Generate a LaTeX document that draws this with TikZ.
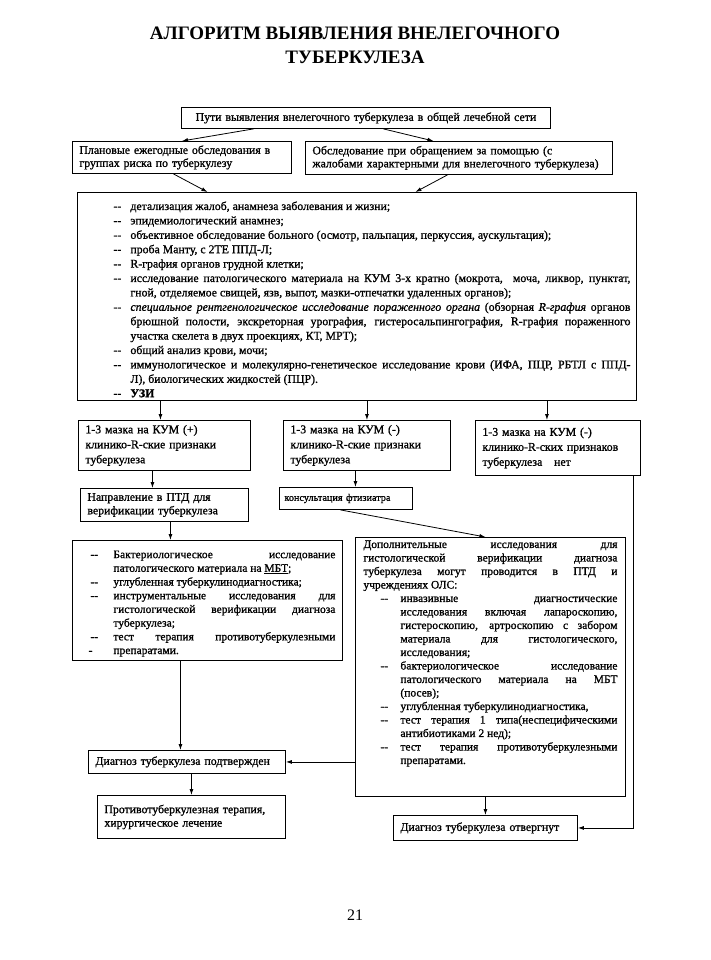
\documentclass[tikz,border=0pt]{standalone}
\usepackage{fontspec}
\setmainfont{Liberation Serif}
\newfontfamily\dk[FakeBold=1]{Liberation Serif}
\usetikzlibrary{arrows.meta}
\newcommand\myitem[3]{\par\noindent\hangindent=#1\hangafter=1\makebox[#1][l]{\hspace{#2}--}\ignorespaces#3\par}
\begin{document}
\begin{tikzpicture}[x=1pt,y=-1pt,
  bx/.style={draw, line width=0.9pt, inner xsep=7pt, inner ysep=3pt, anchor=north west, align=left, font=\dk\fontsize{11.8}{13.5}\selectfont},
  lst/.style={bx, align=justify},
  arr/.style={line width=0.8pt, -{Latex[length=6pt,width=4pt]}},
  ln/.style={line width=0.8pt}]
\useasboundingbox (0,0) rectangle (710,960);
\fill[white] (0,0) rectangle (710,960);
\hyphenpenalty=10000
\exhyphenpenalty=10000

\node[font=\bfseries\fontsize{19}{24}\selectfont, align=center] (title) at (355,45)
  {АЛГОРИТМ ВЫЯВЛЕНИЯ ВНЕЛЕГОЧНОГО\\ТУБЕРКУЛЕЗА};

\node[bx, align=center, text width=355pt, minimum height=21pt] (T) at (181,107)
  {Пути выявления внелегочного туберкулеза в общей лечебной сети};
\node[bx, text width=205pt, minimum height=32pt, font=\dk\fontsize{11.8}{13}\selectfont] (L1) at (72,141)
  {Плановые ежегодные обследования в\\группах риска по туберкулезу};
\node[bx, text width=293pt, minimum height=33pt, font=\dk\fontsize{11.8}{13}\selectfont] (R1) at (305,141)
  {Обследование при обращением за помощью (с\\жалобами характерными для внелегочного туберкулеза)};

\node[lst, inner xsep=6pt, text width=547pt, minimum height=208pt, font=\dk\fontsize{11.8}{14.4}\selectfont] (Big) at (77,192) {%
\myitem{47pt}{30pt}{детализация жалоб, анамнеза заболевания и жизни;}
\myitem{47pt}{30pt}{эпидемиологический анамнез;}
\myitem{47pt}{30pt}{объективное обследование больного (осмотр, пальпация, перкуссия, аускультация);}
\myitem{47pt}{30pt}{проба Манту, с 2ТЕ ППД-Л;}
\myitem{47pt}{30pt}{R-графия органов грудной клетки;}
\myitem{47pt}{30pt}{исследование патологического материала на КУМ 3-х кратно (мокрота, \ моча, ликвор, пунктат,\linebreak гной, отделяемое свищей, язв, выпот, мазки-отпечатки удаленных органов);}
\myitem{47pt}{30pt}{\textit{специальное рентгенологическое исследование пораженного органа} (обзорная \textit{R-графия} органов\linebreak брюшной полости, экскреторная урография, гистеросальпингография, R-графия пораженного\linebreak участка скелета в двух проекциях, КТ, МРТ);}
\myitem{47pt}{30pt}{общий анализ крови, мочи;}
\myitem{47pt}{30pt}{иммунологическое и молекулярно-генетическое исследование крови (ИФА, ПЦР, РБТЛ с ППД-\linebreak Л), биологических жидкостей (ПЦР).}
\myitem{47pt}{30pt}{\textbf{УЗИ}}};

\node[bx, text width=158pt, minimum height=50pt, font=\dk\fontsize{11.8}{15}\selectfont] (A) at (78,420)
  {1-3 мазка на КУМ (+)\\клинико-R-ские признаки\\туберкулеза};
\node[bx, text width=153pt, minimum height=50pt, font=\dk\fontsize{11.8}{15}\selectfont] (B) at (283,420)
  {1-3 мазка на КУМ (-)\\клинико-R-ские признаки\\туберкулеза};
\node[bx, text width=151pt, minimum height=55pt, font=\dk\fontsize{11.8}{15}\selectfont] (C) at (475,420)
  {1-3 мазка на КУМ (-)\\клинико-R-ских признаков\\туберкулеза \ \ нет};

\node[bx, text width=154pt, minimum height=33pt] (Napr) at (80,488)
  {Направление в ПТД для\\верификации туберкулеза};
\node[bx, inner xsep=5pt, text width=123pt, minimum height=22pt, font=\dk\fontsize{10.2}{12}\selectfont] (Kons) at (279,487)
  {консультация фтизиатра};

\node[lst, text width=256pt, minimum height=120pt, font=\dk\fontsize{11.5}{13.7}\selectfont] (LL) at (72,540) {%
\myitem{34pt}{11pt}{Бактериологическое исследование\linebreak патологического материала на \underline{МБТ};}
\myitem{34pt}{11pt}{углубленная туберкулинодиагностика;}
\myitem{34pt}{11pt}{инструментальные исследования для\linebreak гистологической верификации диагноза\linebreak туберкулеза;}
\myitem{34pt}{11pt}{тест терапия противотуберкулезными\linebreak \llap{-\hspace{21pt}}препаратами.}};

\node[lst, inner xsep=8pt, text width=254pt, font=\dk\fontsize{11.5}{13.5}\selectfont] (RL) at (355,537) {%
Дополнительные исследования для\linebreak гистологической верификации диагноза\linebreak туберкулеза могут проводится в ПТД и\linebreak учреждениях ОЛС:
\myitem{37pt}{17pt}{инвазивные диагностические\linebreak исследования включая лапароскопию,\linebreak гистероскопию, артроскопию с забором\linebreak материала для гистологического,\linebreak исследования;}
\myitem{37pt}{17pt}{бактериологическое исследование\linebreak патологического материала на МБТ\linebreak (посев);}
\myitem{37pt}{17pt}{углубленная туберкулинодиагностика,}
\myitem{37pt}{17pt}{тест терапия 1 типа(неспецифическими\linebreak антибиотиками 2 нед);}
\myitem{37pt}{17pt}{тест терапия противотуберкулезными\linebreak препаратами.}
\noindent\rule{0pt}{26pt}};

\node[bx, text width=183pt, minimum height=23pt] (Podtv) at (88,750)
  {Диагноз туберкулеза подтвержден};
\node[bx, text width=174pt, minimum height=43pt] (Proti) at (97,795)
  {Противотуберкулезная терапия,\\хирургическое лечение};
\node[bx, text width=170pt, minimum height=25pt] (Otv) at (393,815)
  {Диагноз туберкулеза отвергнут};

\node[font=\fontsize{16}{18}\selectfont] (pnum) at (355,915) {21};

% connectors
\draw[arr] ([xshift=-112.5pt]T.south) -- (L1.north);
\draw[arr] ([xshift=17.5pt]T.south) -- ([xshift=-25.5pt]R1.north);
\draw[arr] ([xshift=-8.5pt]L1.south) -- ([xshift=-149.5pt]Big.north);
\draw[arr] ([xshift=-11.5pt]R1.south) -- ([xshift=58.5pt]Big.north);
\draw[arr] ([xshift=-4pt]A.north |- Big.south) -- ([xshift=-4pt]A.north);
\draw[arr] (B.north |- Big.south) -- (B.north);
\draw[arr] ([xshift=-11pt]C.north |- Big.south) -- ([xshift=-11pt]C.north);
\draw[arr] ([xshift=-12pt]A.south) -- ([xshift=-12pt]Napr.north);
\draw[arr] ([xshift=9.5pt]Kons.north |- B.south) -- ([xshift=9.5pt]Kons.north);
\draw[arr] ([xshift=-5.5pt]Kons.south) -- ([xshift=-5pt]RL.north);
\draw[arr] ([xshift=6pt]Napr.south) -- ([xshift=6pt]Napr.south |- LL.north);
\draw[arr] ([xshift=-6.5pt]Podtv.north |- LL.south) -- ([xshift=-6.5pt]Podtv.north);
\draw[arr] (RL.west |- Podtv.east) -- (Podtv.east);
\draw[arr] (Proti.north |- Podtv.south) -- (Proti.north);
\draw[arr] (Otv.north |- RL.south) -- (Otv.north);
\draw[arr] ([xshift=75.5pt]C.south) |- (Otv.east);
\end{tikzpicture}
\end{document}
